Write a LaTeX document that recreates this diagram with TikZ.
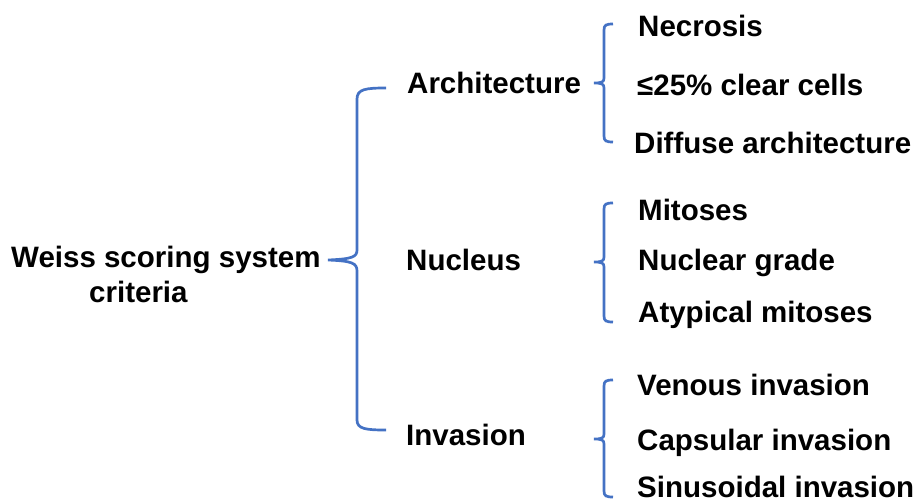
\documentclass[tikz,border=0pt]{standalone}
\usepackage{fontspec}
\setmainfont{Liberation Sans}
\definecolor{braceblue}{RGB}{68,114,196}
\tikzset{
  lbl/.style={inner sep=0pt, anchor=base west, font=\fontsize{29.5}{35}\selectfont\bfseries},
  brc/.style={draw=braceblue, line width=2.7pt}
}
\newcommand{\smallbrc}[3]{%
  \draw[brc] (613,#1) .. controls (606,#1) and (604,{#1+1}) .. (604,{#1+6})
    -- (604,{#2-5}) .. controls (604,{#2-1}) and (602,#2) .. (594,#2)
    .. controls (602,#2) and (604,{#2+1}) .. (604,{#2+5})
    -- (604,{#3-6}) .. controls (604,{#3-1}) and (606,#3) .. (613,#3);}
\begin{document}
\begin{tikzpicture}[x=1pt,y=-1pt]
\useasboundingbox (0,0) rectangle (917,503);
% root
\node[lbl] (weiss) at (11,267) {Weiss scoring system};
\node[lbl] (crit) at (89,302) {criteria};
% level 1
\node[lbl] (arch) at (407,93) {Architecture};
\node[lbl] (nucl) at (406,270) {Nucleus};
\node[lbl] (inva) at (406,445) {Invasion};
% level 2
\node[lbl] (necr) at (638,37) {Necrosis};
\node[lbl] (clear) at (637,95) {≤25\% clear cells};
\node[lbl] (diff) at (634,153) {Diffuse architecture};
\node[lbl] (mito) at (638,220) {Mitoses};
\node[lbl] (ngrade) at (638,270) {Nuclear grade};
\node[lbl] (atyp) at (638,322) {Atypical mitoses};
\node[lbl] (ven) at (637,395) {Venous invasion};
\node[lbl] (cap) at (637,450) {Capsular invasion};
\node[lbl] (sin) at (637,497) {Sinusoidal invasion};
% big brace
\draw[brc] (386,88) .. controls (366,88) and (357,89) .. (357,99)
  -- (357,250) .. controls (357,257) and (352,259) .. (328,260)
  .. controls (352,261) and (357,263) .. (357,271)
  -- (357,420) .. controls (357,429) and (366,430) .. (386,430);
% small braces
\smallbrc{24}{83}{142}
\smallbrc{203}{262}{322}
\smallbrc{380}{439}{497}
\end{tikzpicture}
\end{document}
